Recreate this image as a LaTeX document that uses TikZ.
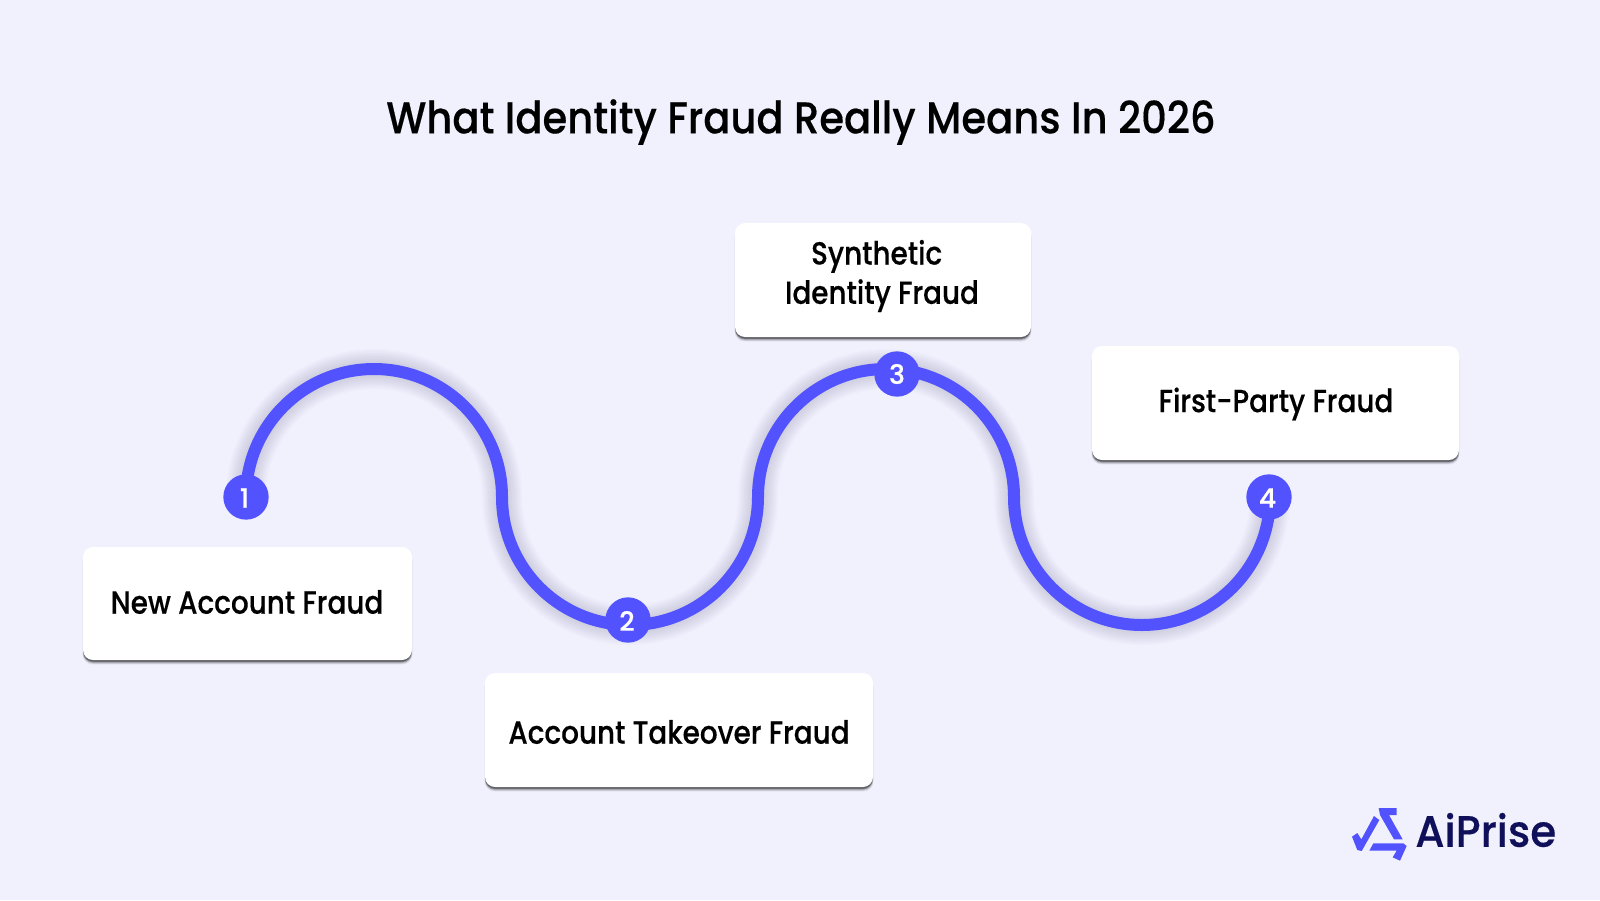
\documentclass[tikz,border=0pt]{standalone}
\usepackage{fontspec}
\setmainfont{Poppins Medium}
\newfontfamily\boxfont[FakeStretch=0.87,FakeBold=0.35]{Poppins Medium}
\newfontfamily\titlefont[FakeStretch=0.902,FakeBold=0.35]{Poppins Medium}
\newfontfamily\brandfont[FakeStretch=0.955,FakeBold=0.3]{Poppins Medium}
\newfontfamily\numfont[FakeBold=0.5]{Poppins Medium}
\usetikzlibrary{calc}
\definecolor{bgc}{HTML}{F1F1FE}
\definecolor{blu}{HTML}{5252FF}
\definecolor{navy}{HTML}{10105A}
\tikzset{
  card/.style={fill=white,rounded corners=7.5pt,draw=none},
  cardtext/.style={font=\boxfont\fontsize{24}{29.5}\selectfont,text=black,align=center},
  badge/.style={circle,fill=blu,minimum size=34pt,inner sep=0pt},
  numtext/.style={text=white,font=\numfont\fontsize{20}{24}\selectfont,inner sep=0pt},
  curve/.style={draw=blu,line width=9pt},
  logo/.style={fill=blu,draw=none},
}
\newcommand{\wave}{(s) arc[start angle=180,end angle=360,radius=128] arc[start angle=180,end angle=0,radius=128] arc[start angle=180,end angle=360,radius=128] arc[start angle=180,end angle=0,radius=128]}
\newcommand{\cardbox}[4]{%
  \foreach \w/\o in {3.6/.05,2.8/.09,2/.16,1.2/.24,.5/.3}{\fill[black,opacity=\o,rounded corners=7.5pt] ($(#1,#2)+(-\w*.2+.4,4)$) rectangle ($(#3,#4)+(\w*.2-.4,\w+1)$);}
  \path[card] (#1,#2) rectangle (#3,#4);}
\begin{document}
\begin{tikzpicture}[x=0.75pt,y=-0.75pt]
\useasboundingbox (0,0) rectangle (1600,900);
\fill[bgc] (0,0) rectangle (1600,900);
\coordinate (s) at (246,497);
% soft shadow of the wave
\begin{scope}[yshift=-11pt,xshift=-2.5pt]
\foreach \w in {30,27,24,21,18,15,12,9}{\draw[black!75!blu,opacity=.02,line width=\w pt] \wave;}
\end{scope}
\draw[curve] \wave;
\node[badge] (n1) at (246,497) {};
\node[badge] (n2) at (628,620) {};
\node[badge] (n3) at (897,374) {};
\node[badge] (n4) at (1269,497) {};
\node[numtext] at ($(n1)+(-1.5,1)$) {1};
\node[numtext] at ($(n2)+(-1,1)$) {2};
\node[numtext] at ($(n3)+(0,0)$) {3};
\node[numtext] at ($(n4)+(-1.5,1)$) {4};
\cardbox{83}{547}{412}{660}
\cardbox{485}{673}{873}{787}
\cardbox{735}{223}{1031}{337}
\cardbox{1092}{346}{1459}{460}
\node[font=\titlefont\fontsize{33.3}{40}\selectfont,text=black] (title) at (801,122) {What Identity Fraud Really Means In 2026};
\node[cardtext] (t1) at (247,602) {New Account Fraud};
\node[cardtext] (t2) at (679,732) {Account Takeover Fraud};
\node[cardtext] (t3) at (882,276) {\hspace*{-8pt}Synthetic\\Identity Fraud};
\node[cardtext] (t4) at (1276,404) {First-Party Fraud};
% logo
\begin{scope}[shift={(1320,780)},x=0.25pt,y=-0.25pt]
\fill[logo] (96,170) -- (112,159) -- (124,178) -- (162,108) -- (178,120) -- (125,213) -- (112,210) -- cycle;
\fill[logo] (176,84) -- (230,84) -- (230,105) -- (207,105) -- (248,178) -- (222,178) -- (180,105) -- cycle;
\fill[logo] (148,212) -- (160,190) -- (250,190) -- (260,198) -- (240,242) -- (218,232) -- (230,212) -- cycle;
\end{scope}
\node[font=\brandfont\fontsize{33}{40}\selectfont,text=navy,anchor=west,inner sep=0pt] (brand) at (1415,830) {AiPrise};
\end{tikzpicture}
\end{document}
